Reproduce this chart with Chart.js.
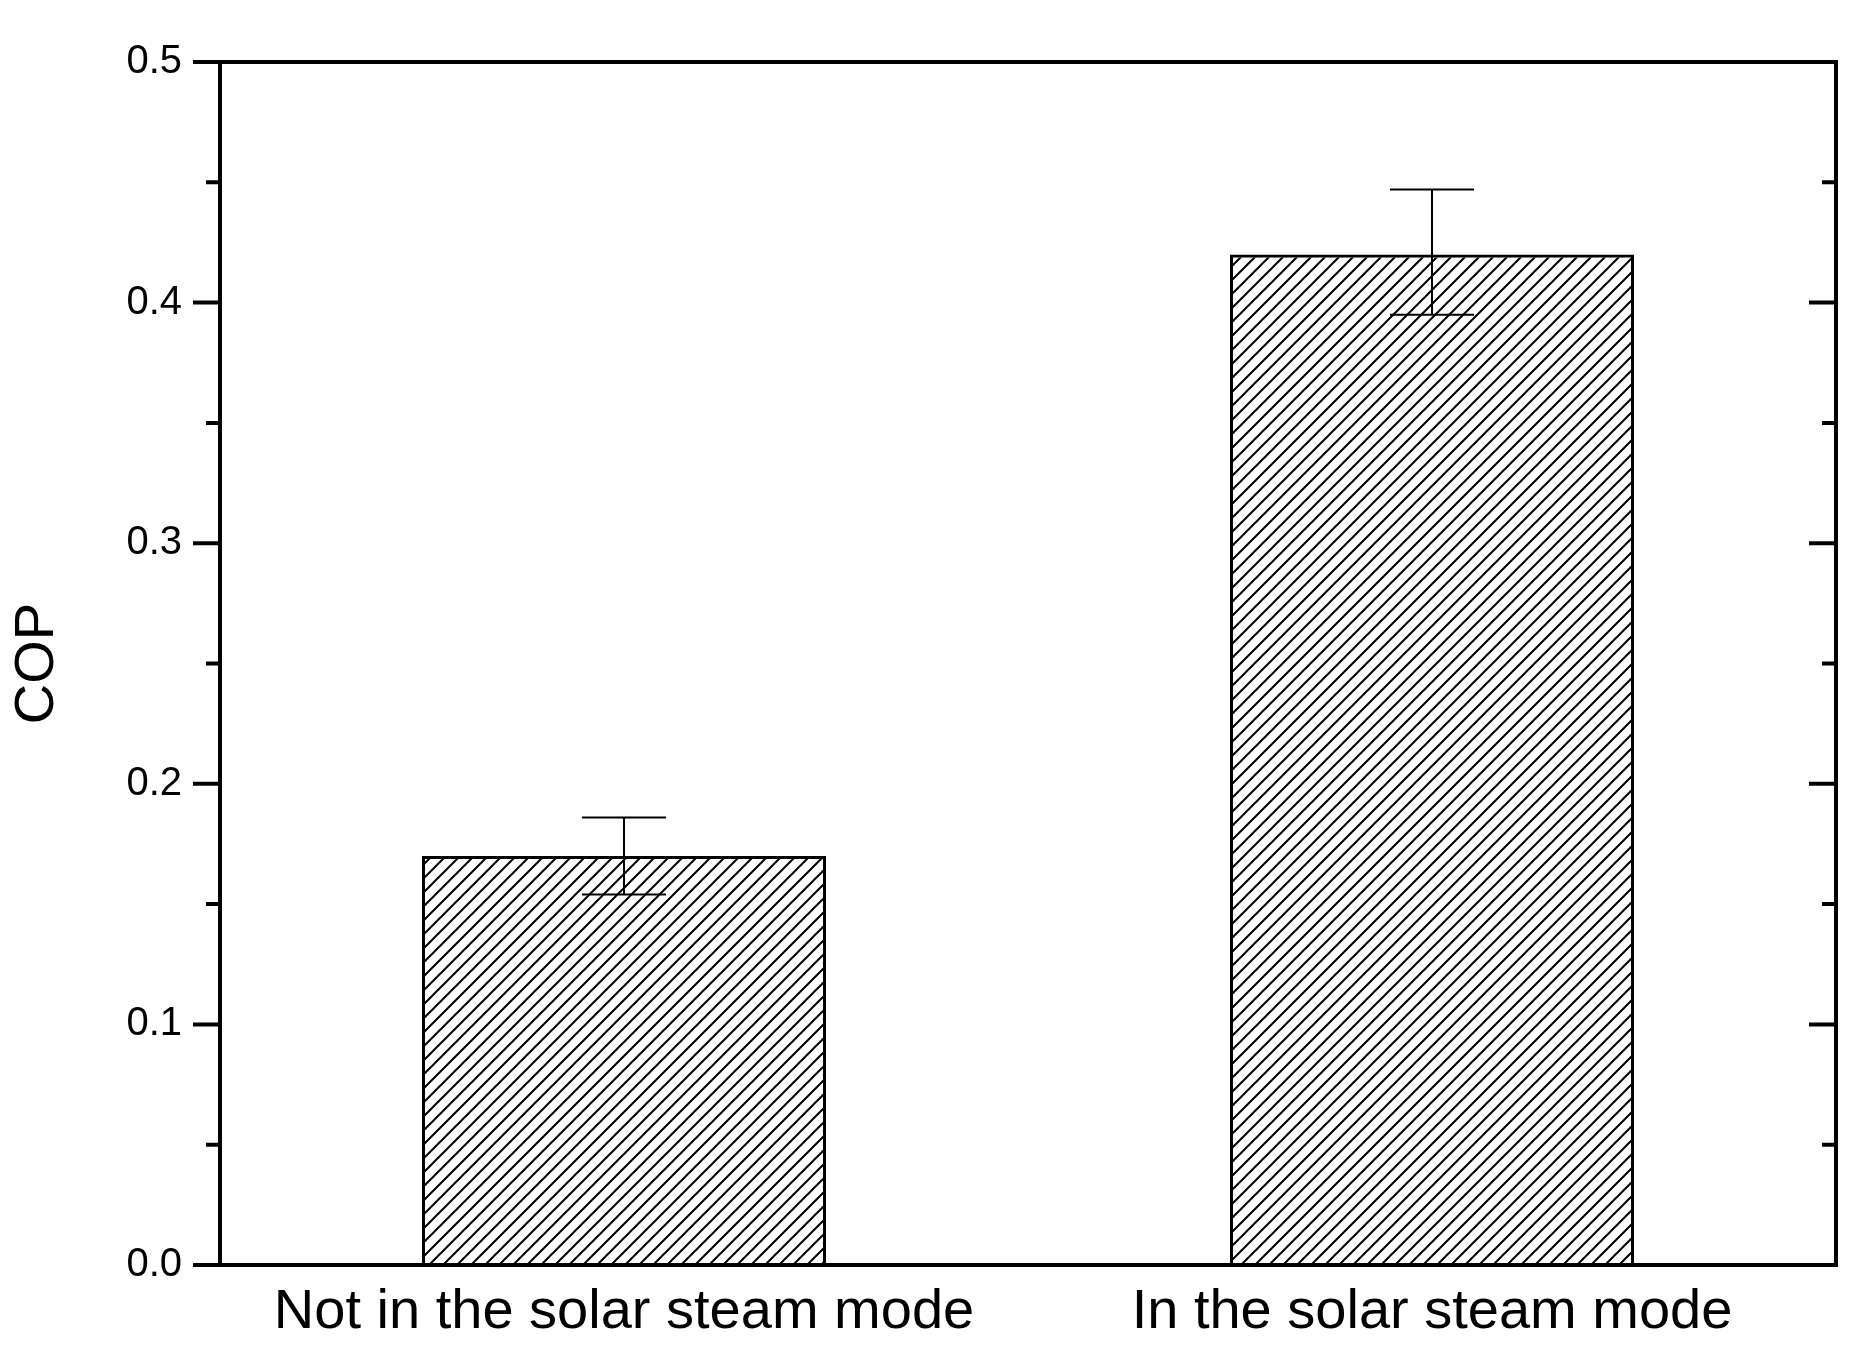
<!DOCTYPE html>
<html><head><meta charset="utf-8">
<script src="https://cdn.jsdelivr.net/npm/chart.js@4/dist/chart.umd.min.js"></script>
<style>html,body{margin:0;background:#fff}#c{display:block}</style>
</head><body>
<canvas id="c" width="1859" height="1357"></canvas>
<script>
const categories = ["Not in the solar steam mode", "In the solar steam mode"];
const copValues = [0.17, 0.42];
const errLow = [0.016, 0.025];
const errHigh = [0.016, 0.027];
const yTicks = [0, 0.1, 0.2, 0.3, 0.4, 0.5];

function hatch() {
  const p = document.createElement("canvas");
  p.width = 14; p.height = 14;
  const g = p.getContext("2d");
  g.strokeStyle = "#000"; g.lineWidth = 2;
  g.beginPath();
  g.moveTo(-2, 16); g.lineTo(16, -2);
  g.moveTo(-2, 2); g.lineTo(2, -2);
  g.moveTo(12, 16); g.lineTo(16, 12);
  g.stroke();
  return g.createPattern(p, "repeat");
}

const frame = {
  id: "frame",
  afterDatasetsDraw(chart) {
    const ctx = chart.ctx, a = chart.chartArea, y = chart.scales.y, x = chart.scales.x;
    ctx.save();
    ctx.strokeStyle = "#000";
    // error bars
    ctx.lineWidth = 2;
    chart.getDatasetMeta(0).data.forEach(function (bar, i) {
      const top = y.getPixelForValue(copValues[i] + errHigh[i]);
      const bot = y.getPixelForValue(copValues[i] - errLow[i]);
      ctx.beginPath();
      ctx.moveTo(bar.x, top); ctx.lineTo(bar.x, bot);
      ctx.moveTo(bar.x - 42, top); ctx.lineTo(bar.x + 42, top);
      ctx.moveTo(bar.x - 42, bot); ctx.lineTo(bar.x + 42, bot);
      ctx.stroke();
    });
    // box
    ctx.lineWidth = 4;
    ctx.strokeRect(a.left, a.top, a.right - a.left, a.bottom - a.top);
    // ticks
    ctx.lineWidth = 4;
    for (let v = 0; v <= 0.5001; v += 0.05) {
      const py = y.getPixelForValue(v);
      const major = Math.round(v * 100) % 10 === 0;
      const len = major ? 27 : 14;
      ctx.beginPath();
      ctx.moveTo(a.left - len, py); ctx.lineTo(a.left, py);
      ctx.moveTo(a.right - len, py); ctx.lineTo(a.right, py);
      ctx.stroke();
    }
    ctx.restore();
  }
};

new Chart(document.getElementById("c"), {
  type: "bar",
  data: {
    labels: categories,
    datasets: [{
      data: copValues,
      backgroundColor: hatch(),
      borderColor: "#000",
      borderWidth: 3,
      barPercentage: 0.5,
      categoryPercentage: 1
    }]
  },
  options: {
    responsive: false,
    animation: false,
    devicePixelRatio: 1,
    layout: { padding: { top: 56, right: 23, left: 0, bottom: 0 } },
    plugins: { legend: { display: false }, tooltip: { enabled: false } },
    scales: {
      x: {
        grid: { display: false, drawTicks: false },
        border: { display: false },
        ticks: { color: "#000", font: { family: "Liberation Sans", size: 56 }, padding: 14 },
        afterFit: function (s) { s.height = 92; }
      },
      y: {
        min: 0, max: 0.5,
        afterBuildTicks: function (s) { s.ticks = yTicks.map(function (v) { return { value: v }; }); },
        grid: { display: false, drawTicks: false },
        border: { display: false },
        ticks: { color: "#000", font: { family: "Liberation Sans", size: 40 }, padding: 38,
          callback: function (v) { return v.toFixed(1); } },
        title: { display: true, text: "COP", color: "#000", font: { family: "Liberation Sans", size: 56 } },
        afterFit: function (s) { s.width = 220; }
      }
    }
  },
  plugins: [frame]
});
</script>
</body></html>
